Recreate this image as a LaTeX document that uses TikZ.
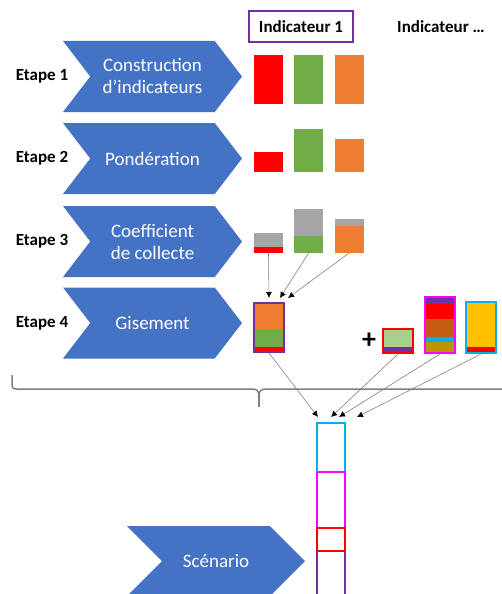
\documentclass[tikz,border=0pt]{standalone}
\usepackage{fontspec}
\setmainfont{Carlito}
\usetikzlibrary{shapes.symbols, arrows.meta, calc, positioning}

\definecolor{chevblue}{HTML}{4472C4}
\definecolor{barred}{HTML}{FF0000}
\definecolor{bargreen}{HTML}{70AD47}
\definecolor{barorange}{HTML}{ED7D31}
\definecolor{bargray}{HTML}{A5A5A5}
\definecolor{indpurple}{HTML}{7030A0}
\definecolor{lightgreen}{HTML}{A9D18E}
\definecolor{barbrown}{HTML}{C55A11}
\definecolor{barcyan}{HTML}{00B0F0}
\definecolor{barmagenta}{HTML}{FF00FF}
\definecolor{baryellow}{HTML}{FFC000}
\definecolor{darkyellow}{HTML}{BF9000}
\definecolor{bracegray}{HTML}{7F7F7F}

\tikzstyle{chevron} = [signal, signal from=west, signal to=east, signal pointer angle=105, fill=chevblue, text=white, align=center, inner sep=0pt, minimum width=179pt, minimum height=71pt, font=\fontsize{19}{22}\selectfont]
\tikzstyle{etape} = [font=\fontsize{17}{20}\selectfont\bfseries]
\tikzstyle{header} = [font=\fontsize{17}{20}\selectfont\bfseries, inner sep=0pt]
\tikzstyle{bar} = [rectangle, inner sep=0pt, minimum width=29pt, anchor=south]
\tikzstyle{box} = [rectangle, inner sep=0pt, minimum width=30pt, line width=2pt]
\tikzstyle{cell} = [rectangle, inner sep=0pt, minimum width=28pt, line width=2pt, fill=white]
\tikzstyle{feed} = [draw=gray, line width=0.6pt, -{Latex[black, length=6pt, width=6pt]}]
\tikzstyle{brace} = [draw=bracegray, line width=1.5pt]

\begin{document}
\begin{tikzpicture}[x=1pt, y=-1pt]
  \useasboundingbox (0,0) rectangle (501,594);

  \node (ind1) [header, draw=indpurple, line width=1.5pt, minimum width=104pt, minimum height=31pt] at (301,26.5) {Indicateur 1};
  \node (indn) [header] at (441,27) {Indicateur …};

  % etapes
  \node (etape1) [etape] at (42,76) {Etape 1};
  \node (constr) [chevron] at (152.5,76.5) {Construction\\d’indicateurs};
  \node (etape2) [etape] at (42,158.5) {Etape 2};
  \node (ponder) [chevron] at (152.5,158.5) {Pondération};
  \node (etape3) [etape] at (42,241.5) {Etape 3};
  \node (coeff) [chevron] at (152.5,241.5) {Coefficient\\de collecte};
  \node (etape4) [etape] at (42,323) {Etape 4};
  \node (gisem) [chevron] at (152.5,323) {Gisement};
  \node (scenar) [chevron, signal pointer angle=90, minimum width=178pt, minimum height=70pt] at (216,561) {Scénario};

  % etape 1
  \node (b1r) [bar, fill=barred, minimum height=49pt] at (268.5,104) {};
  \node (b1g) [bar, fill=bargreen, minimum height=49pt] at (308.5,104) {};
  \node (b1o) [bar, fill=barorange, minimum height=49pt] at (349,104) {};

  % etape 2
  \node (b2r) [bar, fill=barred, minimum height=20pt] at (268.5,172) {};
  \node (b2g) [bar, fill=bargreen, minimum height=43pt] at (308.5,172) {};
  \node (b2o) [bar, fill=barorange, minimum height=33pt] at (349,172) {};

  % etape 3
  \node (b3r) [bar, fill=bargray, minimum height=20pt, path picture={\fill[barred] (path picture bounding box.south west) rectangle ++(29,-6);}] at (268.5,253) {};
  \node (b3g) [bar, fill=bargray, minimum height=44pt, path picture={\fill[bargreen] (path picture bounding box.south west) rectangle ++(29,-17);}] at (308.5,253) {};
  \node (b3o) [bar, fill=bargray, minimum height=34pt, path picture={\fill[barorange] (path picture bounding box.south west) rectangle ++(29,-27);}] at (349,253) {};

  % etape 4
  \node (gis) [box, draw=indpurple, fill=barorange, minimum height=49pt, path picture={\fill[bargreen] (path picture bounding box.south west) rectangle ++(30,-22); \fill[barred] (path picture bounding box.south west) rectangle ++(30,-5);}] at (269,327.5) {};
  \path [feed] (b3r.south) -- ($(gis.north)+(0,-4)$);
  \path [feed] (b3g.south) -- ($(gis.north)+(11,-4)$);
  \path [feed] (b3o.south) -- ($(gis.north)+(19,-4)$);

  \node (plus) [font=\fontsize{28}{30}\selectfont\bfseries, inner sep=0pt] at (369,341) {+};
  \node (ind2) [box, draw=barred, fill=lightgreen, minimum height=24pt, path picture={\fill[indpurple] (path picture bounding box.south west) rectangle ++(30,-6);}] at (398,341) {};
  \node (ind3) [box, draw=barmagenta, fill=indpurple, minimum height=56pt, path picture={\fill[barred] (path picture bounding box.south west) rectangle ++(30,-49); \fill[barbrown] (path picture bounding box.south west) rectangle ++(30,-34); \fill[barcyan] (path picture bounding box.south west) rectangle ++(30,-16); \fill[darkyellow] (path picture bounding box.south west) rectangle ++(30,-11);}] at (440,325) {};
  \node (ind4) [box, draw=barcyan, fill=baryellow, minimum height=51pt, path picture={\fill[barred] (path picture bounding box.south west) rectangle ++(30,-6);}] at (481,327.5) {};

  % accolade
  \draw [brace] (12,375) -- (12,384) .. controls (12,388) and (13,389) .. (17,389) -- (252,389) .. controls (257,389) and (259,391) .. (259,396) .. controls (259,391) and (261,389) .. (266,389) -- (506,389);
  \draw [brace] (259,396) -- (259,407);

  % scenario
  \node (c1) [cell, draw=barcyan, minimum height=49pt] at (331,447.5) {};
  \node (c2) [cell, draw=barmagenta, minimum height=56pt] at (331,500) {};
  \node (c4) [cell, draw=indpurple, minimum height=48pt] at (331,575) {};
  \node (c3) [cell, draw=barred, minimum height=23pt] at (331,539.5) {};

  \path [feed] (gis.south) -- ($(c1.north)+(-13,-5)$);
  \path [feed] (ind2.south) -- ($(c1.north)+(0,-5)$);
  \path [feed] (ind3.south) -- ($(c1.north)+(8,-5)$);
  \path [feed] (ind4.south) -- ($(c1.north)+(26,-5)$);
\end{tikzpicture}
\end{document}
